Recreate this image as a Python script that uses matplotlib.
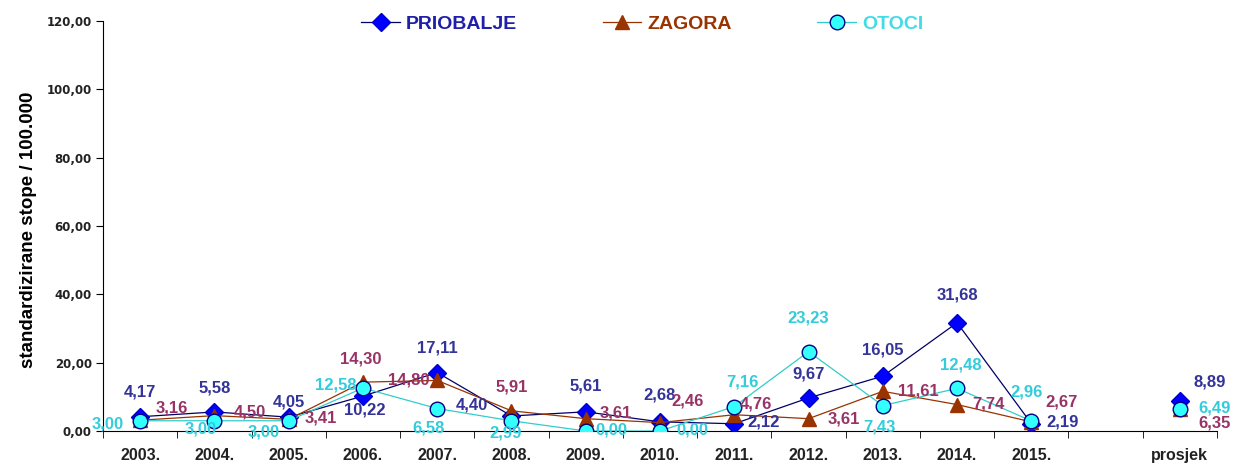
import matplotlib.pyplot as plt
import numpy as np

plt.rcParams['font.family'] = ['Liberation Sans', 'DejaVu Sans']
plt.rcParams['font.weight'] = 'bold'

# podaci
kategorije = ['2003.', '2004.', '2005.', '2006.', '2007.', '2008.', '2009.',
              '2010.', '2011.', '2012.', '2013.', '2014.', '2015.', '', 'prosjek']
priobalje = [4.17, 5.58, 4.05, 10.22, 17.11, 4.40, 5.61, 2.68, 2.12, 9.67,
             16.05, 31.68, 2.19, None, 8.89]
zagora = [3.16, 4.50, 3.41, 14.30, 14.80, 5.91, 3.61, 2.46, 4.76, 3.61,
          11.61, 7.74, 2.67, None, 6.35]
otoci = [3.00, 3.00, 3.00, 12.58, 6.58, 2.99, 0.00, 0.00, 7.16, 23.23,
         7.43, 12.48, 2.96, None, 6.49]

# pomaci oznaka (pikseli)
pom_priobalje = [(0, 25), (0, 24), (0, 15), (2, -14), (0, 25), (-40, 11), (0, 26),
                 (0, 27), (29, 2), (0, 24), (0, 26), (0, 28), (31, 2), None, (30, 19)]
pom_zagora = [(32, 12), (35, 4), (32, 1), (-2, 23), (-28, 0), (0, 24), (30, 6),
              (28, 22), (22, 11), (35, 0), (36, 0), (31, 1), (30, 20), None, (35, -14)]
pom_otoci = [(-32, -3), (-14, -8), (-25, -11), (-27, 3), (-9, -19), (-6, -12), (26, 1),
             (32, 1), (8, 25), (0, 34), (-3, -21), (4, 23), (-5, 29), None, (35, 1)]

fig = plt.figure(figsize=(12.35, 4.66), dpi=100)
ax = fig.add_axes([103 / 1235, 35 / 466, 1114 / 1235, 410 / 466])

x = np.arange(len(kategorije))


def niz(v):
    return np.array([np.nan if a is None else a for a in v], dtype=float)


serije = [
    ('PRIOBALJE', priobalje, pom_priobalje,
     dict(color='#000066', lw=0.9, marker='D', ms=9.5, mfc='#0000ff', mec='#0000cc'),
     '#333399', '#1f1fa8'),
    ('ZAGORA', zagora, pom_zagora,
     dict(color='#993300', lw=0.9, marker='^', ms=10.5, mfc='#993300', mec='#993300'),
     '#993366', '#993300'),
    ('OTOCI', otoci, pom_otoci,
     dict(color='#33cccc', lw=0.9, marker='o', ms=10.5, mfc='#33ffff', mec='#000080', mew=1.0),
     '#33ccdd', '#40dde6'),
]

for ime, vr, pom, stil, boja_oz, _ in serije:
    y = niz(vr)
    ax.plot(x, y, label=ime, zorder=3, **stil)
    for i, v in enumerate(vr):
        if v is None:
            continue
        dx, dy = pom[i]
        ax.annotate(f'{v:.2f}'.replace('.', ','), (x[i], v), xytext=(dx, dy),
                    textcoords='offset pixels', ha='center', va='center',
                    fontsize=12, fontweight='bold', color=boja_oz, zorder=4)

ax.set_xlim(-0.5, len(kategorije) - 0.5)
ax.set_ylim(0, 120)
ax.set_yticks(np.arange(0, 121, 20))
ax.set_yticklabels([f'{t:.2f}'.replace('.', ',') for t in np.arange(0, 121, 20)],
                   fontsize=8.5, fontweight='bold', family='DejaVu Sans', color='#222222')
ax.set_xticks(x)
ax.set_xticklabels(kategorije, fontsize=11.5, fontweight='bold', color='#222222')
ax.set_xticks(np.arange(-0.5, len(kategorije)), minor=True)
ax.tick_params(axis='x', which='major', length=0, pad=12)
ax.tick_params(axis='x', which='minor', length=5, direction='out')
ax.tick_params(axis='y', length=5, direction='out', pad=3)
ax.spines['top'].set_visible(False)
ax.spines['right'].set_visible(False)
ax.set_ylabel('standardizirane stope / 100.000', fontsize=13.5, fontweight='bold')
ax.yaxis.set_label_coords(-0.059, 0.49)

leg = fig.legend(loc='upper center', bbox_to_anchor=(0.52, 1.005), ncol=3, frameon=False,
                 prop={'size': 14, 'weight': 'bold'}, columnspacing=4.4,
                 handlelength=2.0, handletextpad=0.3)
for txt, s in zip(leg.get_texts(), serije):
    txt.set_color(s[5])

fig.savefig('out.png', dpi=100)
